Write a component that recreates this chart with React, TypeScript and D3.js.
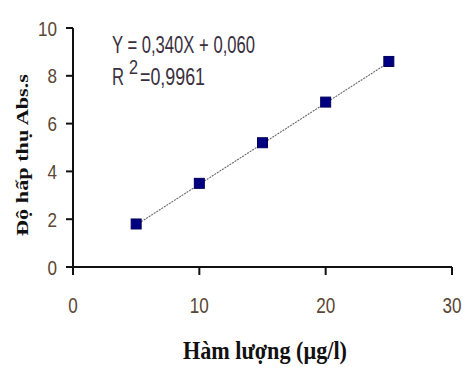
import React from "react";
import * as d3 from "d3";

// concentration (µg/l) and absorbance
const concentrations = [5, 10, 15, 20, 25];
const absorbances = [1.8, 3.5, 5.2, 6.9, 8.6];
const xTicks = [0, 10, 20, 30];
const yTicks = [0, 2, 4, 6, 8, 10];
const slope = 0.34;
const intercept = 0.06;
const equationText = "Y = 0,340X + 0,060";
const r2Text = "=0,9961";
const xTitle = "Hàm lượng (µg/l)";
const yTitle = "Độ hấp thụ Abs.s";

const W = 463;
const H = 367;

// the original uses a narrow sans; squeeze the installed one to match
const narrow = "'Liberation Sans', Arial, sans-serif";
const serif = "'Liberation Serif', 'Times New Roman', serif";
const digitW = 9.5;

export default function App() {
  const x = d3.scaleLinear().domain([0, 30]).range([73, 452]);
  const y = d3.scaleLinear().domain([0, 10]).range([267, 28]);

  const fitLine = d3.line<number>()
    .x(d => x(d))
    .y(d => y(slope * d + intercept));
  const xs = [d3.min(concentrations)!, d3.max(concentrations)!];

  const tickColor = "#5a4632";
  const eqColor = "#3a3040";

  return (
    <svg width={W} height={H} style={{ position: "absolute", left: 0, top: 0, background: "#fff" }}>
      {/* fitted line */}
      <path d={fitLine(xs) || ""} fill="none" stroke="#666" strokeWidth={1.1} strokeDasharray="2 1" />

      {/* axes */}
      <line x1={x(0)} x2={x(0)} y1={y(10)} y2={y(0)} stroke="#111" strokeWidth={2} />
      <line x1={x(0)} x2={x(30)} y1={y(0)} y2={y(0)} stroke="#111" strokeWidth={2} />
      {yTicks.map(t => (
        <g key={"y" + t}>
          <line x1={x(0) - 7} x2={x(0)} y1={y(t)} y2={y(t)} stroke="#111" strokeWidth={2} />
          <text x={57} y={y(t)} dy="0.36em" textAnchor="end" fontFamily={narrow} fontSize={21} fill={tickColor}
            textLength={String(t).length * digitW} lengthAdjust="spacingAndGlyphs">{t}</text>
        </g>
      ))}
      {xTicks.map(t => (
        <g key={"x" + t}>
          <line x1={x(t)} x2={x(t)} y1={y(0)} y2={y(0) + 8} stroke="#111" strokeWidth={2} />
          <text x={x(t)} y={313} textAnchor="middle" fontFamily={narrow} fontSize={22} fill={tickColor}
            textLength={String(t).length * digitW} lengthAdjust="spacingAndGlyphs">{t}</text>
        </g>
      ))}

      {/* markers */}
      {concentrations.map((c, i) => (
        <rect key={c} x={x(c) - 5} y={y(absorbances[i]) - 5} width={10} height={10}
          fill="#000080" stroke="#00005a" strokeWidth={1} />
      ))}

      {/* equation */}
      <text x={112} y={53} fontFamily={narrow} fontSize={24} fill={eqColor}
        textLength={143} lengthAdjust="spacingAndGlyphs">{equationText}</text>
      <text x={112} y={85} fontFamily={narrow} fontSize={24} fill={eqColor}
        textLength={12} lengthAdjust="spacingAndGlyphs">R</text>
      <text x={129} y={74} fontFamily={narrow} fontSize={20} fill={eqColor}
        textLength={9} lengthAdjust="spacingAndGlyphs">2</text>
      <text x={140} y={85} fontFamily={narrow} fontSize={24} fill={eqColor}
        textLength={65} lengthAdjust="spacingAndGlyphs">{r2Text}</text>

      {/* axis titles */}
      <text x={183} y={359} fontFamily={serif} fontWeight="bold"
        fontSize={25} fill="#111" textLength={164} lengthAdjust="spacingAndGlyphs">{xTitle}</text>
      <text transform="translate(28,236) rotate(-90)" fontFamily={serif}
        fontWeight="bold" fontSize={17} fill="#111" textLength={162} lengthAdjust="spacingAndGlyphs">{yTitle}</text>
    </svg>
  );
}
